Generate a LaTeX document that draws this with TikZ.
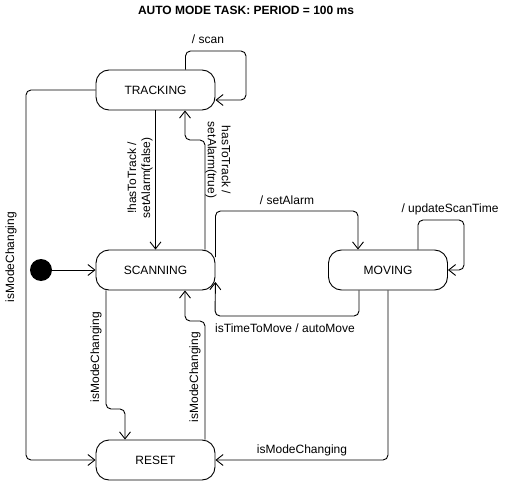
\documentclass[tikz,border=0pt]{standalone}
\usepackage{fontspec}
\setmainfont{Liberation Sans}
\usetikzlibrary{arrows.meta}
\begin{document}
\begin{tikzpicture}[x=1pt,y=-1pt,
  font=\fontsize{12}{14}\selectfont,
  state/.style={draw,line width=0.9pt,rounded corners=13pt,minimum width=119pt,minimum height=40pt,inner sep=0pt},
  edge/.style={draw,line width=0.9pt,rounded corners=5pt,-{Straight Barb[length=7pt,width=11pt,line width=0.9pt]}},
  lbl/.style={inner sep=0pt,align=center}]
\useasboundingbox (0,0) rectangle (511,481);
\node[font=\fontsize{12}{14}\selectfont\bfseries] (title) at (246,10) {AUTO MODE TASK: PERIOD = 100 ms};
\node[state] (tr) at (155.5,90) {TRACKING};
\node[state] (sc) at (155.5,270) {SCANNING};
\node[state] (mv) at (388,270) {MOVING};
\node[state] (rs) at (155.5,460) {RESET};
\node[circle,fill=black,minimum size=22pt,inner sep=0pt] (init) at (41,270) {};
% initial
\draw[edge] (init) -- (sc.west);
% tracking self loop
\draw[edge] ([xshift=30pt]tr.north) |- (246,51) |- ([yshift=-10pt]tr.east);
\node[lbl] (l1) at (208,39) {/ scan};
% tracking -> scanning
\draw[edge] (tr.south) -- (sc.north);
\node[lbl,rotate=90] (l2) at (140,178) {!hasToTrack /\\setAlarm(false)};
% scanning -> tracking
\draw[edge] ([xshift=49.5pt]sc.north) |- (185,140) -- ([xshift=29.5pt]tr.south);
\node[lbl,rotate=-90] (l3) at (218,160) {hasToTrack /\\setAlarm(true)};
% scanning -> moving
\draw[edge] ([yshift=13pt]sc.east) |- (358,211) -- ([xshift=-30pt]mv.north);
\node[lbl] (l4) at (287,200) {/ setAlarm};
% moving -> scanning
\draw[edge] ([xshift=-29pt]mv.south) |- (215,316) -- ([yshift=-12pt]sc.east);
\node[lbl] (l5) at (285,328) {isTimeToMove / autoMove};
% moving self loop
\draw[edge] ([xshift=30pt]mv.north) |- (464,220) |- (mv.east);
\node[lbl] (l6) at (450,209) {/ updateScanTime};
% moving -> reset
\draw[edge] (mv.south) |- (rs.east);
\node[lbl] (l7) at (302,450) {isModeChanging};
% tracking -> reset
\draw[edge] (tr.west) -| (26,275) |- (rs.west);
\node[lbl,rotate=90] (l8) at (11,257) {isModeChanging};
% scanning -> reset
\draw[edge] ([xshift=-49.5pt]sc.south) |- (125,409) -- ([xshift=-30.5pt]rs.north);
\node[lbl,rotate=90] (l9) at (96,357) {isModeChanging};
% reset -> scanning
\draw[edge] ([xshift=49.5pt]rs.north) |- (185,321) -- ([xshift=29.5pt]sc.south);
\node[lbl,rotate=90] (l10) at (195,377) {isModeChanging};
\end{tikzpicture}
\end{document}
